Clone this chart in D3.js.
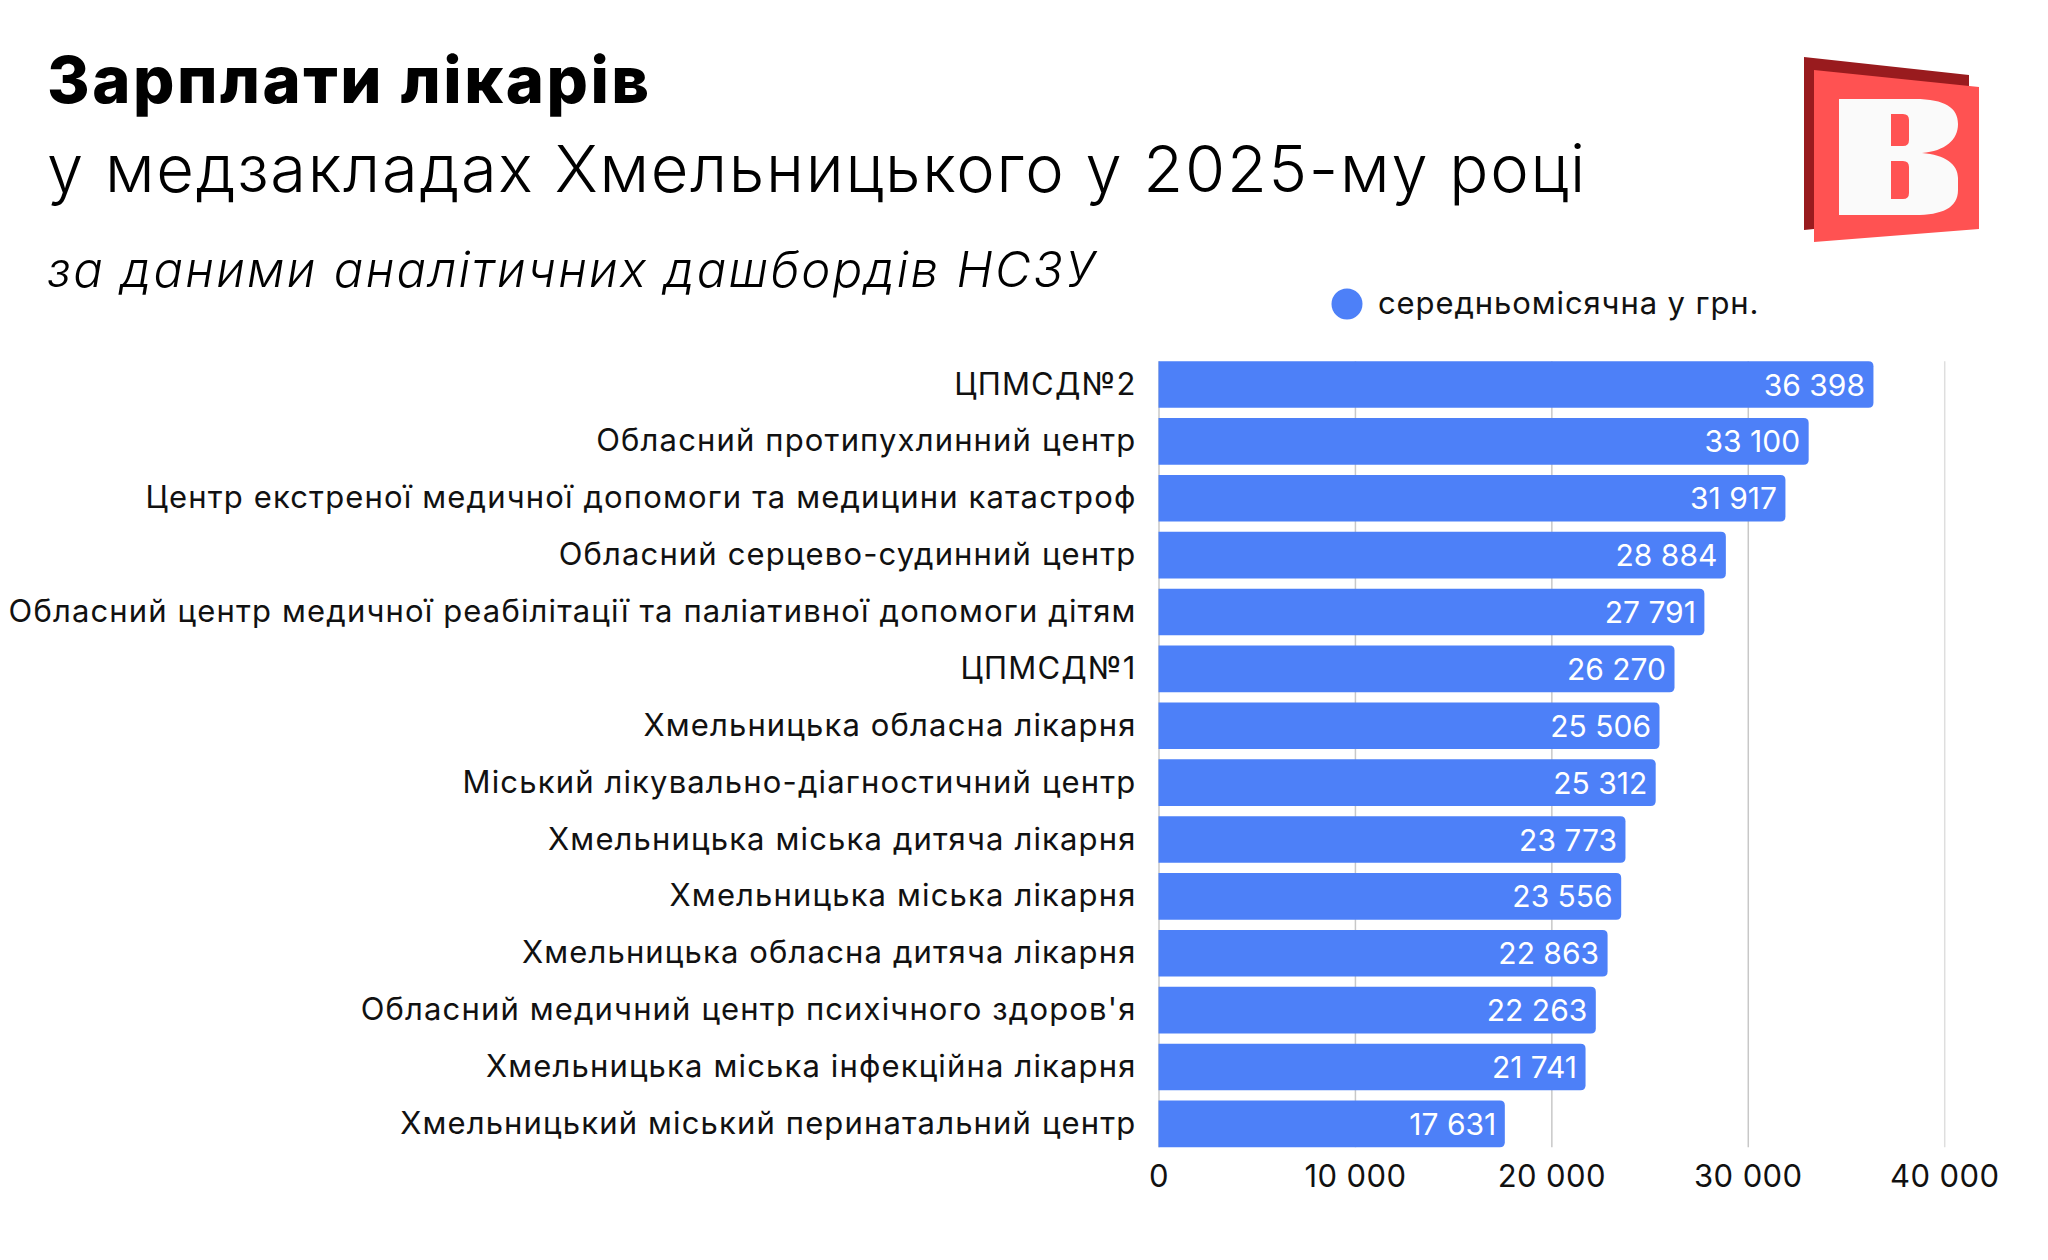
<!DOCTYPE html>
<html>
<head>
<meta charset="utf-8">
<script src="https://cdn.jsdelivr.net/npm/d3@7"></script>
<style>
  html, body { margin: 0; background: #fff; }
  text { font-family: Inter, "Noto Sans", sans-serif; fill: #111; }
  .cat { font-size: 31px; letter-spacing: 1.15px; }
  .val { font-size: 30px; fill: #fff; letter-spacing: 0; }
  .tick text { font-size: 31px; fill: #111; letter-spacing: 0.4px; }
  .grid .domain { display: none; }
</style>
</head>
<body>
<svg id="chart" width="2048" height="1260"></svg>
<script>
const categories = [
  'ЦПМСД№2',
  'Обласний протипухлинний центр',
  'Центр екстреної медичної допомоги та медицини катастроф',
  'Обласний серцево-судинний центр',
  'Обласний центр медичної реабілітації та паліативної допомоги дітям',
  'ЦПМСД№1',
  'Хмельницька обласна лікарня',
  'Міський лікувально-діагностичний центр',
  'Хмельницька міська дитяча лікарня',
  'Хмельницька міська лікарня',
  'Хмельницька обласна дитяча лікарня',
  "Обласний медичний центр психічного здоров'я",
  'Хмельницька міська інфекційна лікарня',
  'Хмельницький міський перинатальний центр'
];
const salaries = [36398, 33100, 31917, 28884, 27791, 26270, 25506, 25312, 23773, 23556, 22863, 22263, 21741, 17631];
const xTicks = [0, 10000, 20000, 30000, 40000];
const titleBold = 'Зарплати лікарів';
const titleLight = 'у медзакладах Хмельницького у 2025-му році';
const subtitle = 'за даними аналітичних дашбордів НСЗУ';
const legendLabel = 'середньомісячна у грн.';

const barColor = '#4d80f8';
const svg = d3.select('#chart');

const x = d3.scaleLinear().domain([0, 40000]).range([1158.5, 1944.2]);
const y = d3.scaleBand().domain(categories).range([361.2, 1147.2]).paddingInner(0.18);

// пробіл між тисячами
const fmt = v => d3.format(',')(v).replace(/,/g, '\u00a0');

// заголовки
svg.append('text').attr('x', 47).attr('y', 103)
  .attr('font-size', 65).attr('font-weight', 800)
  .style('letter-spacing', '2.5px').style('fill', '#000').text(titleBold);
svg.append('text').attr('x', 47).attr('y', 192)
  .attr('font-size', 65).attr('font-weight', 300).style('letter-spacing', '1.75px')
  .style('fill', '#000').text(titleLight);
svg.append('text').attr('x', 47).attr('y', 287)
  .attr('font-size', 49).attr('font-weight', 300).attr('font-style', 'italic')
  .style('letter-spacing', '2.3px').style('fill', '#000').text(subtitle);

// логотип
const logo = svg.append('g');
logo.append('path').attr('d', 'M1804,57 L1969,75 L1969,100 L1814,229 L1804,230 Z').attr('fill', '#991b1e');
logo.append('path').attr('d', 'M1814,70 L1979,87 L1979,229 L1814,242 Z').attr('fill', '#ff5252');
logo.append('path')
  .attr('fill', '#fafafa').attr('fill-rule', 'evenodd')
  .attr('d', 'M1839,99 L1915,99 C1945,99 1958,108 1958,124 C1958,140 1945,151 1922,153 C1945,155 1958,164 1958,178 L1958,190 C1958,208 1942,215 1915,215 L1839,215 Z'
    + ' M1891,114 L1903,114 Q1909,114 1909,120 L1909,140 Q1909,146 1903,146 L1891,146 Z'
    + ' M1891,161 L1903,161 Q1909,161 1909,167 L1909,193 Q1909,199 1903,199 L1891,199 Z');

// легенда
svg.append('circle').attr('cx', 1347).attr('cy', 304).attr('r', 15.5).attr('fill', barColor);
svg.append('text').attr('x', 1378).attr('y', 314)
  .attr('font-size', 31).style('letter-spacing', '0.9px').text(legendLabel);

// сітка і вісь X
const axis = svg.append('g')
  .attr('class', 'grid')
  .attr('transform', 'translate(0,1147.2)')
  .call(d3.axisBottom(x).tickValues(xTicks).tickFormat(fmt).tickSize(-786).tickPadding(18));
axis.selectAll('.tick line')
  .attr('stroke', d => d === 40000 ? '#dedede' : '#c8c8c8')
  .attr('stroke-width', 1.5);

// стовпчики з заокругленими правими кутами
const r = 5;
svg.append('g').selectAll('path')
  .data(salaries)
  .join('path')
  .attr('fill', barColor)
  .attr('d', (d, i) => {
    const x0 = x(0), x1 = x(d), y0 = y(categories[i]), y1 = y0 + y.bandwidth();
    return `M${x0},${y0} H${x1 - r} Q${x1},${y0} ${x1},${y0 + r} V${y1 - r} Q${x1},${y1} ${x1 - r},${y1} H${x0} Z`;
  });

// значення на стовпчиках
svg.append('g').selectAll('text')
  .data(salaries)
  .join('text')
  .attr('class', 'val')
  .attr('x', d => x(d) - 8.5)
  .attr('y', (d, i) => y(categories[i]) + y.bandwidth() / 2 + 11)
  .attr('text-anchor', 'end')
  .text(fmt);

// підписи категорій
svg.append('g').selectAll('text')
  .data(categories)
  .join('text')
  .attr('class', 'cat')
  .attr('x', 1136.5)
  .attr('y', d => y(d) + y.bandwidth() / 2 + 10)
  .attr('text-anchor', 'end')
  .text(d => d);
</script>
</body>
</html>
